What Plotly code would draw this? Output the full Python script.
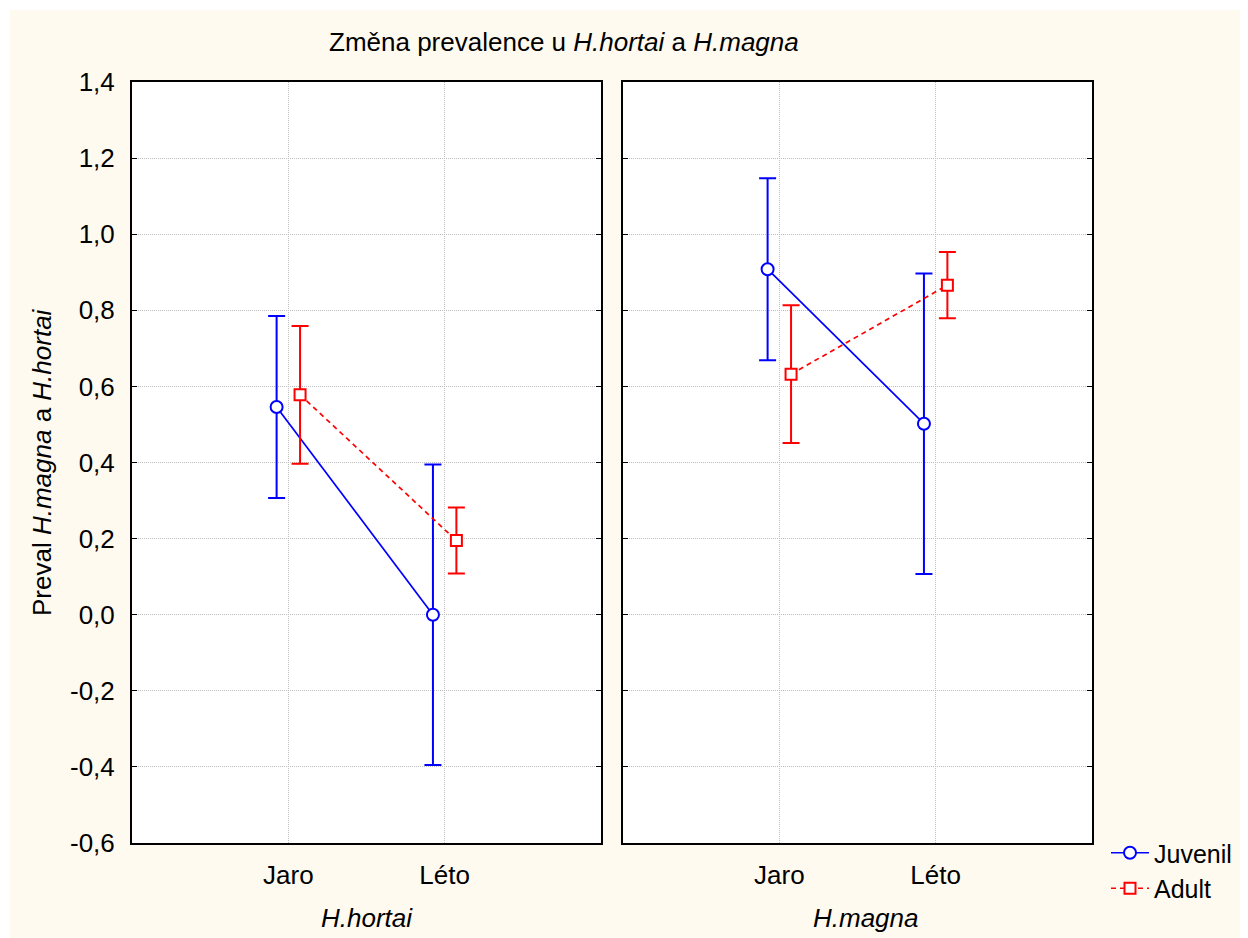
import plotly.graph_objects as go
from plotly.subplots import make_subplots

# ---- data ----
seasons = ["Jaro", "Léto"]
panels = ["H.hortai", "H.magna"]
groups = ["Juvenil", "Adult"]

hortai_juvenil = [0.546, 0.000]
hortai_adult = [0.578, 0.195]
magna_juvenil = [0.908, 0.502]
magna_adult = [0.632, 0.866]

err_juvenil = [0.239, 0.395]
err_adult = [0.181, 0.087]

y_ticks = [-0.6, -0.4, -0.2, 0.0, 0.2, 0.4, 0.6, 0.8, 1.0, 1.2, 1.4]
y_labels = ["-0,6", "-0,4", "-0,2", "0,0", "0,2", "0,4", "0,6", "0,8", "1,0", "1,2", "1,4"]

# ---- layout geometry ----
# The page body has an 8px margin, so the figure is drawn 8px in from the
# window's top-left corner. Screen-pixel positions are converted below.
OFFS = 8
SW, SH = 1248, 938
W, H = SW - OFFS, SH - OFFS
PL, PR, PT, PB = 132, 1092, 82, 843  # plot-area edges in screen pixels
L, R, T, B = PL - OFFS, W - (PR - OFFS), PT - OFFS, H - (PB - OFFS)
pw = PR - PL
ph = PB - PT


def px_x(p):
    return (p - PL) / pw


def px_y(p):
    return (PB - p) / ph


FONT = "Liberation Sans, Arial, sans-serif"
FS = 26
BLUE = "#0000FF"
RED = "#FF0000"
OFF = 0.075

fig = make_subplots(rows=1, cols=2)
fig.layout.xaxis.domain = [0, px_x(601)]
fig.layout.xaxis2.domain = [px_x(623), 1]

series = [
    (1, hortai_juvenil, hortai_adult),
    (2, magna_juvenil, magna_adult),
]
base_x = [i + 1 for i in range(len(seasons))]

for col, juv, adu in series:
    fig.add_trace(go.Scatter(
        x=[b - OFF for b in base_x], y=juv, name=groups[0],
        mode="lines+markers", showlegend=(col == 1),
        line=dict(color=BLUE, width=1.7),
        marker=dict(symbol="circle", size=12, color="white", line=dict(color=BLUE, width=2)),
        error_y=dict(type="data", array=err_juvenil, visible=True, color=BLUE, thickness=2, width=8.5),
        legendgroup="j",
    ), row=1, col=col)
    fig.add_trace(go.Scatter(
        x=[b + OFF for b in base_x], y=adu, name=groups[1],
        mode="lines+markers", showlegend=(col == 1),
        line=dict(color=RED, width=1.7, dash="5px,4px"),
        marker=dict(symbol="square", size=11, color="white", line=dict(color=RED, width=2)),
        error_y=dict(type="data", array=err_adult, visible=True, color=RED, thickness=2, width=8.5),
        legendgroup="a",
    ), row=1, col=col)

axis_common = dict(showline=True, linecolor="black", linewidth=2,
                   showgrid=True, gridcolor="#BEBEBE", griddash="1px,1px", gridwidth=1,
                   zeroline=False)

for i in (1, 2):
    fig.update_xaxes(range=[0, 3], tickvals=base_x, ticktext=seasons, ticks="",
                     tickfont=dict(family=FONT, size=FS, color="black"),
                     ticklabelstandoff=8, mirror=True,
                     **axis_common, row=1, col=i)
    fig.update_yaxes(range=[-0.6, 1.4], tickvals=y_ticks, ticktext=y_labels,
                     ticks="inside", ticklen=5, tickcolor="black", tickwidth=1,
                     showticklabels=(i == 1),
                     tickfont=dict(family=FONT, size=FS, color="black"),
                     ticklabelstandoff=10, mirror="ticks",
                     **axis_common, row=1, col=i)

annotations = [
    dict(text="Změna prevalence u <i>H.hortai</i> a <i>H.magna</i>", x=px_x(564), y=px_y(42),
         xanchor="center", yanchor="middle", showarrow=False,
         font=dict(family=FONT, size=FS, color="black")),
    dict(text="Preval <i>H.magna</i> a <i>H.hortai</i>", x=px_x(42), y=px_y(462),
         xanchor="center", yanchor="middle", textangle=-90, showarrow=False,
         font=dict(family=FONT, size=FS, color="black")),
    dict(text="<i>" + panels[0] + "</i>", x=px_x(367), y=px_y(918),
         xanchor="center", yanchor="middle", showarrow=False,
         font=dict(family=FONT, size=FS, color="black")),
    dict(text="<i>" + panels[1] + "</i>", x=px_x(866), y=px_y(918),
         xanchor="center", yanchor="middle", showarrow=False,
         font=dict(family=FONT, size=FS, color="black")),
]
for a in annotations:
    a["xref"] = "paper"
    a["yref"] = "paper"

shapes = [
    dict(type="rect", xref="paper", yref="paper",
         x0=px_x(10), x1=px_x(SW + 20), y0=px_y(SH + 20), y1=px_y(10),
         fillcolor="#FFFAF0", line=dict(width=0), layer="below"),
    dict(type="rect", xref="paper", yref="paper",
         x0=px_x(132), x1=px_x(601), y0=0, y1=1,
         fillcolor="white", line=dict(width=0), layer="below"),
    dict(type="rect", xref="paper", yref="paper",
         x0=px_x(623), x1=px_x(1092), y0=0, y1=1,
         fillcolor="white", line=dict(width=0), layer="below"),
]

fig.update_layout(
    width=W, height=H,
    margin=dict(l=L, r=R, t=T, b=B, autoexpand=False),
    paper_bgcolor="white",
    plot_bgcolor="white",
    separators=", ",
    font=dict(family=FONT, size=FS, color="black"),
    annotations=annotations,
    shapes=shapes,
    legend=dict(x=px_x(1106), y=px_y(830), xanchor="left", yanchor="top",
                bgcolor="rgba(0,0,0,0)", font=dict(family=FONT, size=25, color="black"),
                tracegroupgap=0, itemwidth=38),
    showlegend=True,
)

fig.write_html("out.html")
